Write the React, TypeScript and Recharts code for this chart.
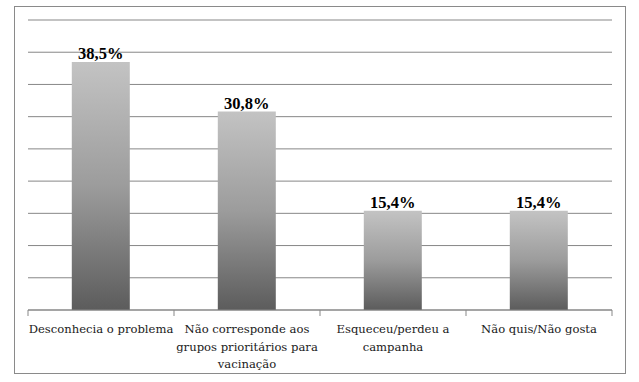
import { BarChart, Bar, XAxis, YAxis, CartesianGrid, LabelList } from 'recharts';

const CATEGORIES = [
  'Desconhecia o problema',
  'Não corresponde aos\ngrupos prioritários para\nvacinação',
  'Esqueceu/perdeu a\ncampanha',
  'Não quis/Não gosta',
];
const VALUES = [38.5, 30.8, 15.4, 15.4];
const Y_TICKS = [0, 5, 10, 15, 20, 25, 30, 35, 40, 45];

const data = CATEGORIES.map((name, i) => ({ name, value: VALUES[i] }));

const GRID = '#878787';

type TickProps = {
  x: number;
  y: number;
  index: number;
  payload: { value: string; offset?: number };
};

function CategoryTick({ x, y, index, payload }: TickProps) {
  const half = payload.offset || 73;
  const lines = String(payload.value).split('\n');
  return (
    <g>
      <line x1={x - half} x2={x - half} y1={y - 8} y2={y - 2} stroke={GRID} />
      {index === CATEGORIES.length - 1 && (
        <line x1={x + half} x2={x + half} y1={y - 8} y2={y - 2} stroke={GRID} />
      )}
      <text
        x={x}
        y={y + 15}
        textAnchor="middle"
        fontFamily="'DejaVu Serif', serif"
        fontSize={11.6}
        fill="#1a1a1a"
      >
        {lines.map((l, i) => (
          <tspan key={i} x={x} dy={i === 0 ? 0 : 17.5}>
            {l}
          </tspan>
        ))}
      </text>
    </g>
  );
}

export default function App() {
  return (
    <div style={{ position: 'absolute', left: 0, top: 0, width: 639, height: 382, background: '#fff' }}>
      <div
        style={{
          position: 'absolute',
          left: 14,
          top: 6,
          width: 612,
          height: 368,
          border: '1px solid #8a8a8a',
          boxSizing: 'border-box',
        }}
      />
      <BarChart
        width={639}
        height={382}
        data={data}
        margin={{ top: 20, right: 27, left: 28, bottom: 12 }}
        barCategoryGap="30%"
        style={{ position: 'absolute', left: 0, top: 0 }}
      >
        <defs>
          <linearGradient id="barGrad" x1="0" y1="0" x2="0" y2="1">
            <stop offset="0%" stopColor="#c3c3c3" />
            <stop offset="50%" stopColor="#9c9c9c" />
            <stop offset="100%" stopColor="#5c5c5c" />
          </linearGradient>
        </defs>
        <CartesianGrid vertical={false} stroke={GRID} strokeWidth={1} />
        <YAxis hide domain={[0, 45]} ticks={Y_TICKS} />
        <XAxis
          dataKey="name"
          height={60}
          interval={0}
          axisLine={{ stroke: GRID }}
          tickLine={false}
          tick={(props: any) => <CategoryTick {...props} />}
        />
        <Bar dataKey="value" fill="url(#barGrad)" isAnimationActive={false}>
          <LabelList
            dataKey="value"
            position="top"
            offset={3}
            formatter={(v: any) => `${Number(v).toFixed(1).replace('.', ',')}%`}
            style={{ fontFamily: "'Liberation Serif', serif", fontWeight: 700, fontSize: 16.5, fill: '#000' }}
          />
        </Bar>
      </BarChart>
    </div>
  );
}
